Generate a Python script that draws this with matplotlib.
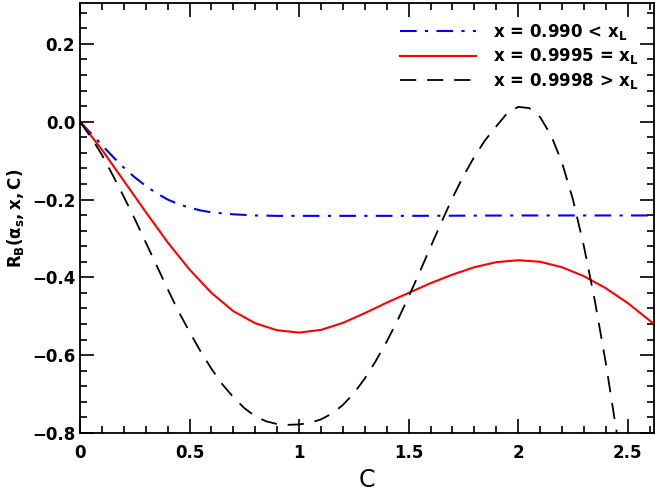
import matplotlib
matplotlib.use("Agg")
import matplotlib.pyplot as plt
from matplotlib.ticker import MultipleLocator

c_blue = [0, 0.05, 0.1, 0.15, 0.2, 0.25, 0.3, 0.35, 0.4, 0.45, 0.5, 0.55, 0.6, 0.7, 0.8,
          0.9, 1.0, 1.5, 2.0, 2.62]
r_blue = [0, -0.03, -0.06, -0.09, -0.118, -0.143, -0.165, -0.184, -0.2, -0.212, -0.221,
          -0.228, -0.233, -0.238, -0.241, -0.242, -0.242, -0.242, -0.241, -0.241]

c_red = [0, 0.1, 0.2, 0.3, 0.4, 0.5, 0.6, 0.7, 0.8, 0.9, 1.0, 1.1, 1.2, 1.3, 1.4,
         1.5, 1.6, 1.7, 1.8, 1.9, 2.0, 2.1, 2.2, 2.3, 2.4, 2.5, 2.62]
r_red = [0, -0.072, -0.152, -0.232, -0.31, -0.38, -0.44, -0.487, -0.518, -0.536, -0.542,
         -0.535, -0.517, -0.492, -0.465, -0.44, -0.415, -0.393, -0.374, -0.361, -0.356,
         -0.36, -0.374, -0.397, -0.428, -0.466, -0.52]

c_black = [0, 0.05, 0.1, 0.15, 0.2, 0.25, 0.3, 0.35, 0.4, 0.45, 0.5, 0.55, 0.6, 0.65,
           0.7, 0.75, 0.8, 0.85, 0.9, 0.95, 1.0, 1.05, 1.1, 1.15, 1.2, 1.25, 1.3, 1.35,
           1.4, 1.45, 1.5, 1.55, 1.6, 1.65, 1.7, 1.75, 1.8, 1.85, 1.9, 1.95, 2.0, 2.05,
           2.1, 2.15, 2.2, 2.25, 2.3, 2.35, 2.4, 2.45, 2.5]
r_black = [0, -0.04, -0.085, -0.138, -0.193, -0.25, -0.31, -0.37, -0.43, -0.488, -0.54,
           -0.59, -0.635, -0.675, -0.708, -0.736, -0.757, -0.77, -0.777, -0.779, -0.778,
           -0.774, -0.765, -0.75, -0.728, -0.698, -0.66, -0.615, -0.565, -0.51, -0.45,
           -0.387, -0.322, -0.258, -0.196, -0.14, -0.09, -0.047, -0.012, 0.022, 0.038,
           0.035, 0.012, -0.035, -0.105, -0.2, -0.32, -0.46, -0.62, -0.80, -0.99]

fig = plt.figure(figsize=(6.56, 5.0), dpi=100)
ax = fig.add_axes([80/656, 67/500, 574/656, 430/500])

ax.plot(c_blue, r_blue, color="blue", lw=1.5, dashes=(8, 4, 1.5, 4), label=r"x = 0.990 < x$_\mathbf{L}$")
ax.plot(c_red, r_red, color="red", lw=1.5, label=r"x = 0.9995 = x$_\mathbf{L}$")
ax.plot(c_black, r_black, color="black", lw=1.3, dashes=(9, 6), label=r"x = 0.9998 > x$_\mathbf{L}$")

ax.set_xlim(0, 2.62)
ax.set_ylim(-0.8, 0.305)
ax.xaxis.set_minor_locator(MultipleLocator(0.1))
ax.yaxis.set_minor_locator(MultipleLocator(0.04))
ax.tick_params(which="both", direction="in", top=True, right=True, labelsize=12, width=1.2)
ax.tick_params(which="major", length=10)
ax.tick_params(which="minor", length=5)
for s in ax.spines.values():
    s.set_linewidth(1.3)
ax.set_xticks([0, 0.5, 1, 1.5, 2, 2.5])
ax.set_xticklabels(["0", "0.5", "1", "1.5", "2", "2.5"], fontweight="bold")
ax.set_yticks([-0.8, -0.6, -0.4, -0.2, 0.0, 0.2])
ax.set_yticklabels(["\u22120.8", "\u22120.6", "\u22120.4", "\u22120.2", "0.0", "0.2"], fontweight="bold")
ax.tick_params(axis="x", pad=8)

ax.set_xlabel("C", fontsize=17)
ax.set_ylabel(r"$\mathbf{R_B(\alpha_s,x,C)}$", fontsize=12)

ax.legend(loc="upper right", bbox_to_anchor=(1.0, 0.99), frameon=False, handlelength=4.6,
          handletextpad=1.0, labelspacing=0.25,
          prop={"family": "DejaVu Sans", "weight": "bold", "size": 12})

fig.savefig("out.png", dpi=100)
